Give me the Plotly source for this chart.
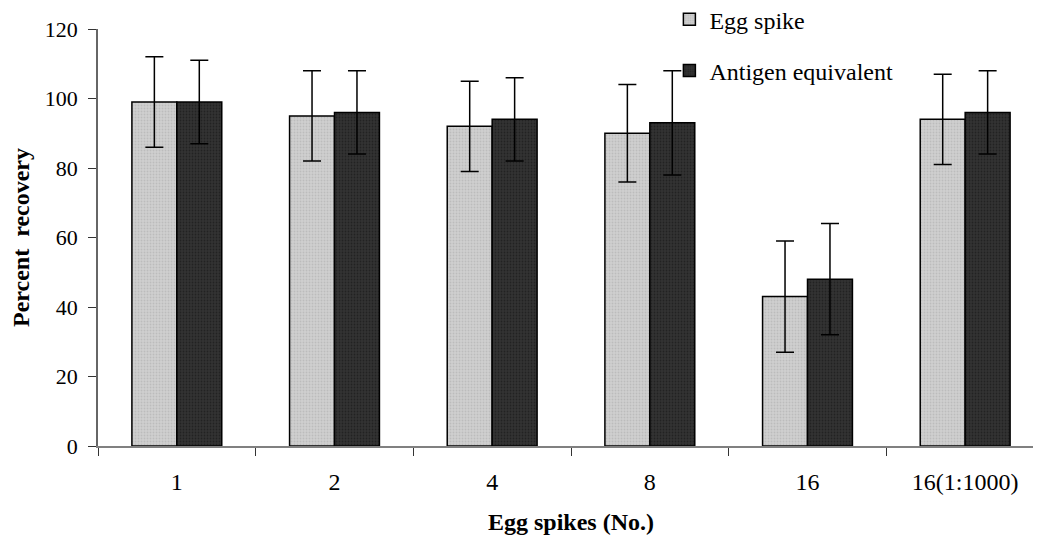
import plotly.graph_objects as go

categories = ["1", "2", "4", "8", "16", "16(1:1000)"]
egg_spike = [99, 95, 92, 90, 43, 94]
egg_spike_err = [13, 13, 13, 14, 16, 13]
antigen_equiv = [99, 96, 94, 93, 48, 96]
antigen_equiv_err = [12, 12, 12, 15, 16, 12]
y_ticks = [0, 20, 40, 60, 80, 100, 120]

FONT = "Liberation Serif, Times New Roman, serif"

fig = go.Figure()
fig.add_trace(go.Bar(
    name="Egg spike", x=categories, y=egg_spike, legendgroup="a",
    marker=dict(color="#c4c4c4", line=dict(color="#000000", width=1.5),
                pattern=dict(shape=".", size=3, solidity=0.3, fgcolor="#a8a8a8", bgcolor="#d0d0d0")),
    error_y=dict(type="data", array=egg_spike_err, visible=True, color="#000000", thickness=1.5, width=9),
))
fig.add_trace(go.Bar(
    name="Antigen equivalent", x=categories, y=antigen_equiv, legendgroup="b",
    marker=dict(color="#2a2a2a", line=dict(color="#000000", width=1.5),
                pattern=dict(shape=".", size=3, solidity=0.3, fgcolor="#111111", bgcolor="#333333")),
    error_y=dict(type="data", array=antigen_equiv_err, visible=True, color="#000000", thickness=1.5, width=9),
))

fig.update_layout(
    width=1041, height=543,
    margin=dict(l=90, r=5, t=21, b=105, autoexpand=False),
    paper_bgcolor="white", plot_bgcolor="white",
    barmode="group", bargap=0.43, bargroupgap=0,
    font=dict(family=FONT, size=24, color="#000000"),
    showlegend=True,
    legend=dict(x=0.604, y=1.0764, xanchor="left", yanchor="top",
                font=dict(family=FONT, size=24, color="#000000"),
                tracegroupgap=17, bgcolor="rgba(0,0,0,0)", itemwidth=30),
)
fig.update_xaxes(
    type="category", range=[-0.5, 5.5],
    showline=True, linecolor="#808080", linewidth=1.5,
    ticks="outside", tickson="boundaries", ticklen=8, tickcolor="#333333", tickwidth=1.2,
    ticklabelstandoff=13,
    tickfont=dict(family=FONT, size=24), showgrid=False,
    title=dict(text="<b>Egg spikes (No.)</b>", font=dict(family=FONT, size=24), standoff=20),
)
fig.update_yaxes(
    range=[0, 120], tickvals=y_ticks,
    showline=True, linecolor="#666666", linewidth=1.5,
    ticks="outside", ticklen=8, tickcolor="#333333", tickwidth=1.2,
    ticklabelstandoff=6,
    tickfont=dict(family=FONT, size=22), showgrid=False, zeroline=False,
    title=dict(text="<b>Percent  recovery</b>", font=dict(family=FONT, size=24), standoff=10),
)

fig.write_html("out.html")
